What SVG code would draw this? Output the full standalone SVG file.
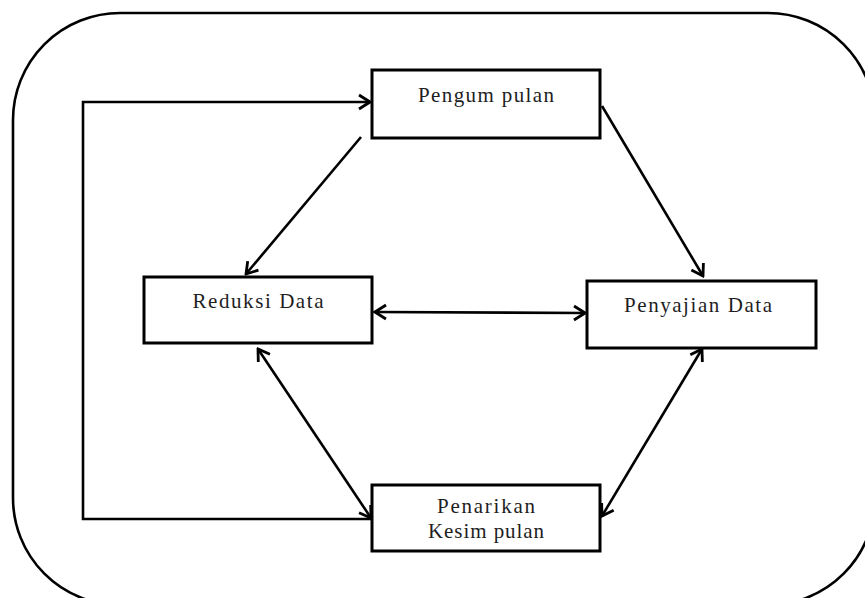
<svg xmlns="http://www.w3.org/2000/svg" width="865" height="598" viewBox="0 0 865 598">
  <style>
    .box { fill: #ffffff; stroke: #000000; stroke-width: 3; }
    .lbl { font-family: "Liberation Serif", "DejaVu Serif", serif; font-size: 21px; fill: #1e1e1e; text-anchor: middle; }
    .edge { fill: none; stroke: #000000; stroke-width: 2.6; }
  </style>
  <defs>
    <marker id="arr" markerUnits="userSpaceOnUse" viewBox="-14 -9 16 18" refX="0" refY="0" markerWidth="16" markerHeight="18" orient="auto-start-reverse">
      <path d="M -11 -7 L 0 0 L -11 7" fill="none" stroke="#000" stroke-width="2.8" stroke-linejoin="miter"/>
    </marker>
  </defs>
  <rect x="13" y="13" width="862" height="592" rx="107" ry="107" fill="#ffffff" stroke="#000000" stroke-width="2.6"/>
  <g id="connectors">
    <line class="edge" x1="361" y1="137" x2="246" y2="274" marker-end="url(#arr)"/>
    <line class="edge" x1="602" y1="106" x2="703" y2="276" marker-end="url(#arr)"/>
    <line class="edge" x1="375" y1="312" x2="585" y2="313" marker-start="url(#arr)" marker-end="url(#arr)"/>
    <line class="edge" x1="258" y1="349" x2="371" y2="518" marker-start="url(#arr)" marker-end="url(#arr)"/>
    <line class="edge" x1="702" y1="349" x2="602" y2="516" marker-start="url(#arr)" marker-end="url(#arr)"/>
    <polyline class="edge" points="372,519 83,519 83,102 370,102" marker-end="url(#arr)"/>
  </g>
  <g id="pengumpulan">
    <rect class="box" x="372" y="70" width="228" height="68"/>
    <text class="lbl" x="486" y="102" textLength="136" lengthAdjust="spacing">Pengum pulan</text>
  </g>
  <g id="reduksi">
    <rect class="box" x="144" y="277" width="228" height="66"/>
    <text class="lbl" x="258" y="308" textLength="131" lengthAdjust="spacing">Reduksi Data</text>
  </g>
  <g id="penyajian">
    <rect class="box" x="587" y="281" width="229" height="67"/>
    <text class="lbl" x="698" y="312" textLength="148" lengthAdjust="spacing">Penyajian Data</text>
  </g>
  <g id="penarikan">
    <rect class="box" x="372" y="485" width="228" height="66"/>
    <text class="lbl" x="486" y="513" textLength="98" lengthAdjust="spacing">Penarikan</text>
    <text class="lbl" x="486" y="538" textLength="116" lengthAdjust="spacing">Kesim pulan</text>
  </g>
</svg>
